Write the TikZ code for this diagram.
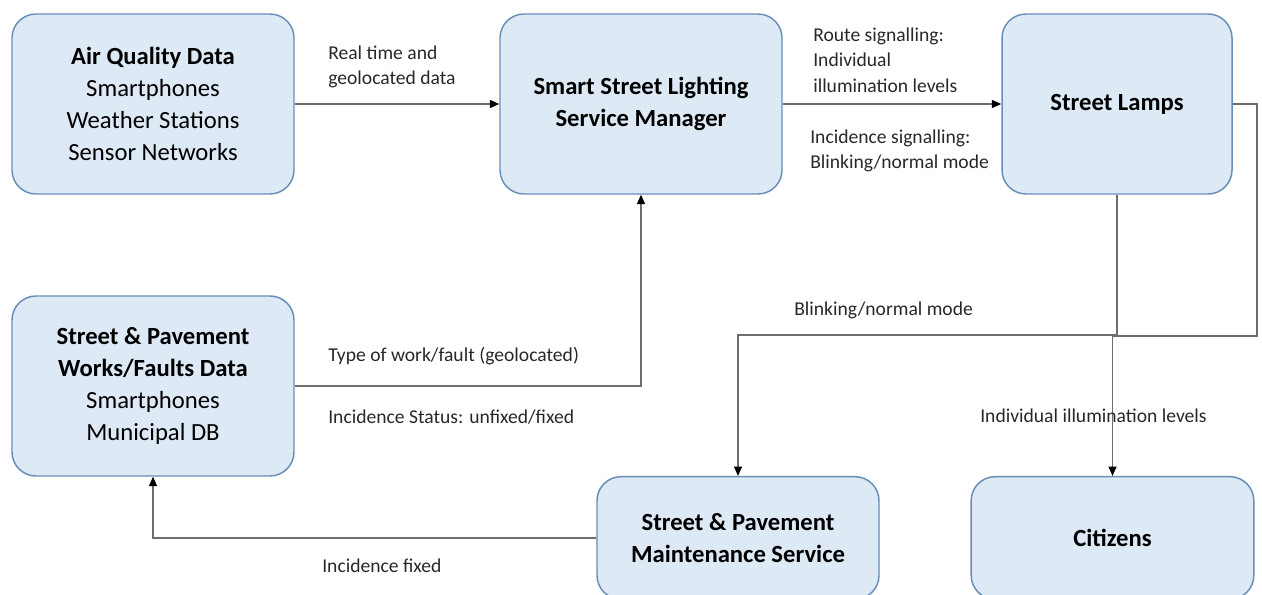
\documentclass[tikz,border=0pt]{standalone}
\usepackage{fontspec}
\setmainfont{Carlito}
\usetikzlibrary{arrows.meta}

\definecolor{boxfill}{RGB}{221,233,245}
\definecolor{boxline}{RGB}{104,142,184}
\definecolor{wire}{RGB}{110,110,110}
\definecolor{labeltext}{RGB}{40,40,40}

\tikzset{
    block/.style={draw=boxline, fill=boxfill, line width=1.1pt, rounded corners=18pt,
        align=center, font=\fontsize{18.5}{24}\selectfont, text=black, inner sep=0pt},
    flow/.style={draw=wire, line width=0.9pt, -{Triangle[length=7pt, width=6pt, color=black]}},
    tag/.style={font=\fontsize{14.7}{19}\selectfont, text=labeltext, align=left, anchor=west, inner sep=0pt}
}

\begin{document}
\begin{tikzpicture}[x=0.75pt, y=-0.75pt]
        \pgfmathsetmacro{\boxW}{211.5}
        \pgfmathsetmacro{\boxH}{135}

        \useasboundingbox (0, 0) rectangle (1262, 595);

        % boxes
        \node[block, minimum width=\boxW pt, minimum height=\boxH pt] (air) at (153, 104)
            {\textbf{Air Quality Data}\\Smartphones\\Weather Stations\\Sensor Networks};
        \node[block, minimum width=\boxW pt, minimum height=\boxH pt] (manager) at (641, 104)
            {\textbf{Smart Street Lighting}\\\textbf{Service Manager}};
        \node[block, minimum width=172.5pt, minimum height=\boxH pt] (lamps) at (1117, 104)
            {\textbf{Street Lamps}};
        \node[block, minimum width=\boxW pt, minimum height=\boxH pt] (works) at (153, 386)
            {\textbf{Street \& Pavement}\\\textbf{Works/Faults Data}\\Smartphones\\Municipal DB};
        \node[block, minimum width=\boxW pt, minimum height=92pt] (maint) at (738, 538)
            {\textbf{Street \& Pavement}\\\textbf{Maintenance Service}};
        \node[block, minimum width=212pt, minimum height=92pt] (citizens) at (1112.5, 538)
            {\textbf{Citizens}};

        \coordinate (splitL) at (1117, 335);
        \coordinate (splitR) at (1257, 336);

        % connectors
        \draw[flow] (air) -- (manager);
        \draw[flow] (manager) -- (lamps);
        \draw[flow] (works.east) -| (manager.south);
        \draw[flow] (lamps.south) -- (splitL) -| (maint.north);
        \draw[flow] (lamps.east) -| (splitR) -| (citizens.north);
        \draw[flow] (maint.west) -| (works.south);

        % labels
        \node[tag] (realTime) at (328, 67) {Real time and\\geolocated data};
        \node[tag] (route) at (813, 60) {Route signalling:\\Individual\\illumination levels};
        \node[tag] (incSignal) at (810, 151) {Incidence signalling:\\Blinking/normal mode};
        \node[tag] (blink) at (794, 310) {Blinking/normal mode};
        \node[tag] (workType) at (328, 356) {Type of work/fault (geolocated)};
        \node[tag] (incStatus) at (328, 417) {Incidence Status: unfixed/fixed};
        \node[tag] (illum) at (980, 416) {Individual illumination levels};
        \node[tag] (fixed) at (322, 566) {Incidence fixed};
    \end{tikzpicture}
\end{document}
